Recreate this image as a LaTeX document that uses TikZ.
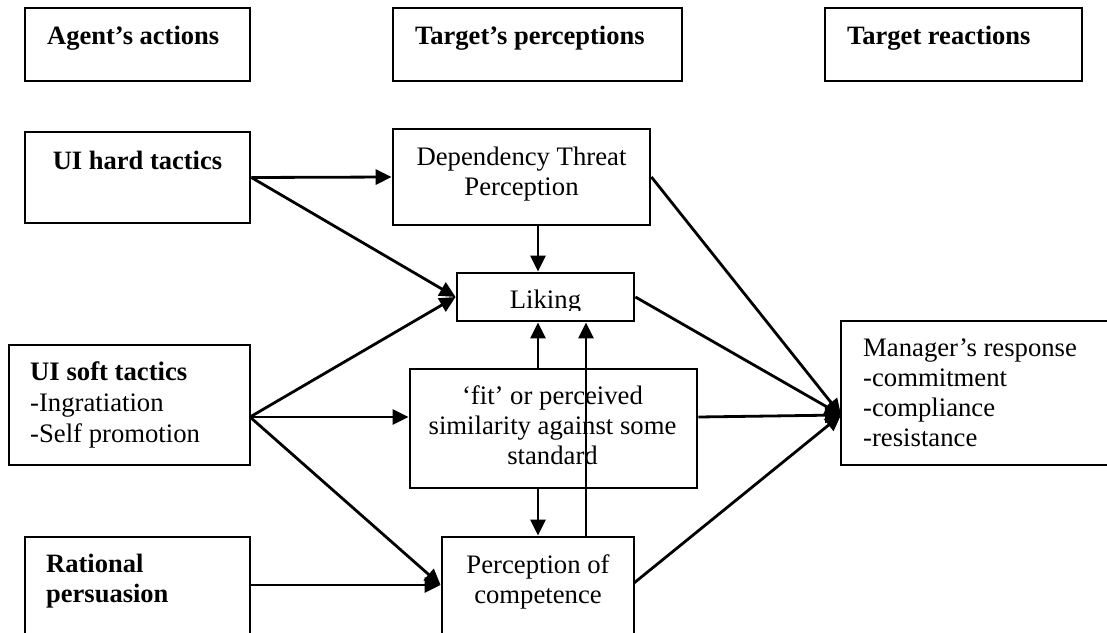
\documentclass[tikz,border=0pt]{standalone}
\usepackage{fontspec}
\setmainfont{Liberation Serif}
\usetikzlibrary{arrows.meta}
\begin{document}
\begin{tikzpicture}[x=1pt,y=-1pt,
  box/.style={draw, line width=2.8pt, inner sep=0pt, rectangle},
  lbl/.style={inner sep=0pt, font=\fontsize{26.7}{30}\selectfont},
  hdr/.style={inner sep=0pt, font=\fontsize{26.5}{30}\selectfont\bfseries},
  arr/.style={line width=2.8pt, -{Triangle[length=16pt,width=15pt]}}]
\path[use as bounding box, clip] (0,0) rectangle (1107,632);

% header boxes
\node[box, minimum width=225pt, minimum height=73pt] (agent) at (137.5,44.5) {};
\node[box, minimum width=289pt, minimum height=73pt] (tper) at (537.5,44.5) {};
\node[box, minimum width=257pt, minimum height=73pt] (treac) at (953.5,44.5) {};
\node[hdr, anchor=base west] (agentT) at (47,44) {Agent’s actions};
\node[hdr, anchor=base west] (tperT) at (415,44) {Target’s perceptions};
\node[hdr, anchor=base west] (treacT) at (847,44) {Target reactions};

% left column
\node[box, minimum width=225pt, minimum height=91pt] (hard) at (137.5,177.5) {};
\node[hdr, anchor=base] (hardT) at (137.5,169) {UI hard tactics};
\node[box, minimum width=241pt, minimum height=120pt] (soft) at (129.5,405) {};
\node[lbl, anchor=base west, align=left, font=\fontsize{26.7}{31}\selectfont] (softT) at (30,442)
  {\textbf{UI soft tactics}\\-Ingratiation\\-Self promotion};
\node[box, minimum width=225pt, minimum height=113pt] (rat) at (137.5,593.5) {};
\node[hdr, anchor=base west, align=left] (ratT) at (46,602) {Rational\\persuasion};

% middle column
\node[box, minimum width=257pt, minimum height=96pt] (dep) at (521.5,177) {};
\node[lbl, anchor=base, align=center] (depT) at (521.5,195) {Dependency Threat\\Perception};
\node[box, minimum width=177pt, minimum height=48pt] (liking) at (545.5,297) {};
\begin{scope}
  \clip (457,273) rectangle (634,310);
  \node[lbl, anchor=base] (likingT) at (545.5,308) {Liking};
\end{scope}
\node[box, minimum width=287pt, minimum height=119pt] (fit) at (553.5,428.5) {};
\node[lbl, anchor=base, align=center] (fitT) at (552.5,464) {‘fit’ or perceived\\similarity against some\\standard};
\node[box, minimum width=192pt, minimum height=113pt] (perc) at (538,593.5) {};
\node[lbl, anchor=base, align=center] (percT) at (538,603) {Perception of\\competence};

% right column
\node[box, minimum width=271pt, minimum height=144pt] (mgr) at (976.5,393) {};
\node[lbl, anchor=base west, align=left] (mgrT) at (863,446)
  {Manager’s response\\-commitment\\-compliance\\-resistance};

% connection points
\coordinate (softOut) at (250,417);
\coordinate (ratOut) at (250,585);
\coordinate (mgrIn) at (841,415);
\coordinate (percOut) at (634,583);
\coordinate (colA) at (538,0);
\coordinate (colB) at (586,0);

% arrows from agent's actions
\draw[arr] (hard.east) -- (dep.west);
\draw[arr] (hard.east) -- (liking.west);
\draw[arr] (softOut) -- (liking.west);
\draw[arr] (softOut) -- (fit.west |- softOut);
\draw[arr] (softOut) -- (perc.west |- ratOut);
\draw[arr] (ratOut) -- (perc.west |- ratOut);

% arrows among perceptions
\draw[arr] (dep.south -| colA) -- (liking.north -| colA);
\draw[arr] (fit.north -| colA) -- (liking.south -| colA);
\draw[arr] (fit.south -| colA) -- (perc.north -| colA);
\draw[arr] (perc.north -| colB) -- (liking.south -| colB);

% arrows to reactions
\draw[arr] (dep.east) -- (mgrIn);
\draw[arr] (liking.east) -- (mgrIn);
\draw[arr] (fit.east |- softOut) -- (mgrIn);
\draw[arr] (percOut) -- (mgrIn);
\end{tikzpicture}
\end{document}
